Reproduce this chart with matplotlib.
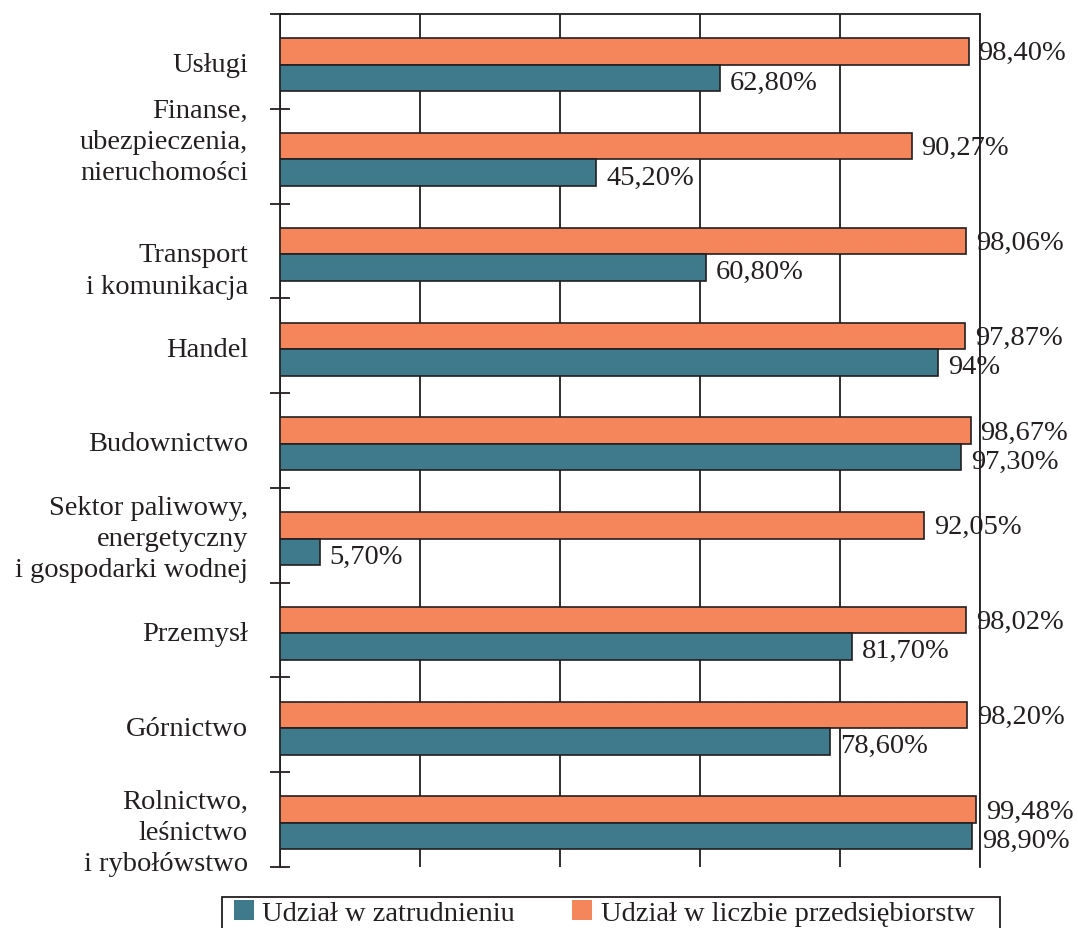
import matplotlib
matplotlib.use("Agg")
import matplotlib.pyplot as plt
from matplotlib.patches import Patch, Rectangle
import numpy as np

plt.rcParams['font.family'] = ['Liberation Serif', 'DejaVu Serif']

categories = ["Usługi",
              "Finanse,\nubezpieczenia,\nnieruchomości",
              "Transport\ni komunikacja",
              "Handel",
              "Budownictwo",
              "Sektor paliwowy,\nenergetyczny\ni gospodarki wodnej",
              "Przemysł",
              "Górnictwo",
              "Rolnictwo,\nleśnictwo\ni rybołówstwo"]
firms = [98.40, 90.27, 98.06, 97.87, 98.67, 92.05, 98.02, 98.20, 99.48]
employment = [62.80, 45.20, 60.80, 94, 97.30, 5.70, 81.70, 78.60, 98.90]
firms_labels = ["98,40%", "90,27%", "98,06%", "97,87%", "98,67%", "92,05%", "98,02%", "98,20%", "99,48%"]
employment_labels = ["62,80%", "45,20%", "60,80%", "94%", "97,30%", "5,70%", "81,70%", "78,60%", "98,90%"]
series_names = ["Udział w zatrudnieniu", "Udział w liczbie przedsiębiorstw"]

teal = "#3f7a8c"
orange = "#f5855a"
ink = "#231f20"
fs = 20.5

# vertical nudge of the category labels (in category units)
label_shift = [0, -0.19, 0.17, 0, 0, 0, 0, 0, 0.1]

fig = plt.figure(figsize=(10.78, 9.29), dpi=100)
ax = fig.add_axes([280/1078, 1-868/929, 700/1078, 853/929])

pos = np.arange(len(categories))
h = 0.28
off = 0.035
ax.barh(pos + off - h/2, firms, height=h, color=orange, edgecolor=ink, linewidth=1.2, zorder=3)
ax.barh(pos + off + h/2, employment, height=h, color=teal, edgecolor=ink, linewidth=1.2, zorder=3)

for i in range(len(categories)):
    ax.annotate(firms_labels[i], (firms[i], pos[i] + off - h/2), xytext=(7, -1),
                textcoords="offset points", va="center", ha="left", fontsize=fs, color=ink,
                annotation_clip=False)
    ax.annotate(employment_labels[i], (employment[i], pos[i] + off + h/2), xytext=(7, -3),
                textcoords="offset points", va="center", ha="left", fontsize=fs, color=ink,
                annotation_clip=False)
    ax.text(-32/7, pos[i] + off + label_shift[i], categories[i], ha="right", va="center",
            fontsize=fs, color=ink, linespacing=1.33)

ax.set_xlim(0, 100)
ax.set_ylim(len(categories) - 0.5, -0.5)
ax.set_xticks(np.arange(0, 101, 20))
ax.set_xticklabels([])
ax.tick_params(axis="x", length=0)
ax.xaxis.grid(True, color=ink, linewidth=1.3, zorder=0)
ax.set_axisbelow(True)
ax.set_yticks(np.arange(-0.5, len(categories), 1))
ax.set_yticklabels([])
ax.tick_params(axis="y", direction="inout", length=14, width=1.3, color=ink)
ax.spines["bottom"].set_visible(False)
for s in ["left", "top", "right"]:
    ax.spines[s].set_color(ink)
    ax.spines[s].set_linewidth(1.3)

# legend box drawn by hand so it can run past the bottom edge like the original
handles = [Patch(facecolor=teal, edgecolor="none"), Patch(facecolor=orange, edgecolor="none")]
leg = fig.legend(handles, series_names, loc="upper left", bbox_to_anchor=(234/1078, 1-901/929),
                 ncol=2, fontsize=fs, frameon=False,
                 handlelength=0.7, handleheight=0.7, handletextpad=0.3, columnspacing=2.0,
                 borderpad=0, borderaxespad=0)
for t in leg.get_texts():
    t.set_color(ink)
fig.patches.append(Rectangle((222/1078, -0.02), 778/1078, 1-898/929 + 0.02,
                             transform=fig.transFigure, fill=False, edgecolor=ink, linewidth=1.3))

fig.savefig("out.png", dpi=100)
